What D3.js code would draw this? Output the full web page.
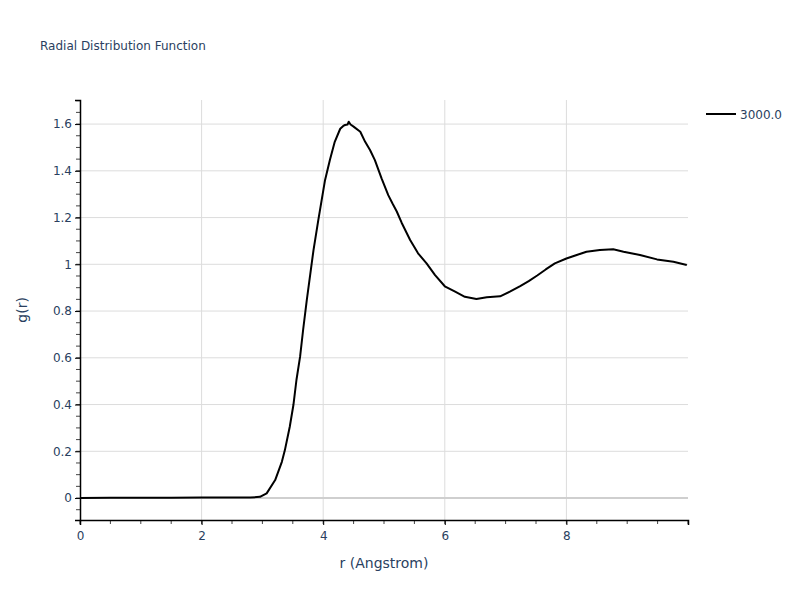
<!DOCTYPE html>
<html>
<head>
<meta charset="utf-8">
<script src="https://cdn.jsdelivr.net/npm/d3@7/dist/d3.min.js"></script>
<style>
  body { margin: 0; background: #fff; }
  text { font-family: "DejaVu Sans", Verdana, sans-serif; fill: #2a3f5f; }
</style>
</head>
<body>
<div id="chart"></div>
<script>
// Values
const seriesName = "3000.0";
const rValues = [0, 0.5, 1.0, 1.5, 2.0, 2.5, 2.8, 2.96, 3.07, 3.21, 3.32, 3.37, 3.45, 3.51, 3.56,
  3.62, 3.67, 3.73, 3.84, 3.92, 4.03, 4.11, 4.19, 4.28, 4.33, 4.36, 4.40, 4.42, 4.45, 4.50, 4.61, 4.69, 4.77,
  4.85, 4.96, 5.07, 5.14, 5.21, 5.29, 5.43, 5.56, 5.70, 5.84, 6.00, 6.17, 6.33, 6.52, 6.69, 6.91,
  7.07, 7.24, 7.38, 7.52, 7.66, 7.81, 8.00, 8.17, 8.33, 8.55, 8.77, 8.94, 9.21, 9.49, 9.76, 9.98];
const gValues = [0, 0.001, 0.001, 0.001, 0.002, 0.002, 0.002, 0.005, 0.02, 0.077, 0.155, 0.205, 0.305, 0.398, 0.505,
  0.605, 0.72, 0.847, 1.06, 1.19, 1.36, 1.446, 1.524, 1.58, 1.592, 1.596, 1.598, 1.61, 1.598, 1.589, 1.567, 1.524, 1.489,
  1.446, 1.368, 1.296, 1.26, 1.226, 1.178, 1.104, 1.047, 1.004, 0.954, 0.906, 0.883, 0.861, 0.852, 0.859, 0.863,
  0.883, 0.907, 0.928, 0.952, 0.978, 1.004, 1.025, 1.04, 1.054, 1.061, 1.064, 1.054, 1.04, 1.021, 1.011, 0.997];
const xTicks = [0, 2, 4, 6, 8];
const yTicks = [0, 0.2, 0.4, 0.6, 0.8, 1, 1.2, 1.4, 1.6];

const width = 800, height = 600;
const margin = { top: 100, right: 112, bottom: 80, left: 80 };

const svg = d3.select("#chart").append("svg")
    .attr("width", width)
    .attr("height", height);

const x = d3.scaleLinear().domain([0, 10]).range([margin.left, width - margin.right]);
const y = d3.scaleLinear().domain([-0.094, 1.703]).range([height - margin.bottom, margin.top]);

// Grid lines
svg.append("g").selectAll("line").data(xTicks.filter(d => d > 0)).join("line")
    .attr("x1", d => x(d)).attr("x2", d => x(d))
    .attr("y1", margin.top).attr("y2", height - margin.bottom)
    .style("stroke", "#dcdcdc").style("stroke-width", 1);
svg.append("g").selectAll("line").data(yTicks.filter(d => d !== 0)).join("line")
    .attr("x1", margin.left).attr("x2", width - margin.right)
    .attr("y1", d => y(d)).attr("y2", d => y(d))
    .style("stroke", "#dcdcdc").style("stroke-width", 1);

// Zero line
svg.append("line")
    .attr("x1", margin.left).attr("x2", width - margin.right)
    .attr("y1", y(0)).attr("y2", y(0))
    .style("stroke", "#cfcfcf").style("stroke-width", 2);

// Minor ticks
const xMinor = d3.range(0, 10.01, 0.5);
const yMinor = d3.range(-0.05, 1.701, 0.05);
svg.append("g").selectAll("line").data(xMinor).join("line")
    .attr("x1", d => x(d)).attr("x2", d => x(d))
    .attr("y1", height - margin.bottom).attr("y2", height - margin.bottom + 4)
    .style("stroke", "#444").style("stroke-width", 1);
svg.append("g").selectAll("line").data(yMinor).join("line")
    .attr("x1", margin.left - 4).attr("x2", margin.left)
    .attr("y1", d => y(d)).attr("y2", d => y(d))
    .style("stroke", "#444").style("stroke-width", 1);

// Axes
const xAxis = d3.axisBottom(x).tickValues(xTicks).tickSize(5).tickPadding(6).tickFormat(d3.format("d"));
const yAxis = d3.axisLeft(y).tickValues(yTicks).tickSize(5).tickPadding(3).tickFormat(d => d3.format("~g")(d));

const gx = svg.append("g")
    .attr("transform", `translate(0,${height - margin.bottom})`)
    .call(xAxis);
const gy = svg.append("g")
    .attr("transform", `translate(${margin.left},0)`)
    .call(yAxis);
[gx, gy].forEach(g => {
    g.select(".domain").style("stroke", "#000").style("stroke-width", 1.5);
    g.selectAll(".tick line").style("stroke", "#000");
    g.selectAll(".tick text").style("font-size", "12px").style("fill", "#2a3f5f")
        .style("font-family", "'DejaVu Sans', sans-serif");
});

// Curve
const line = d3.line()
    .x((d, i) => x(rValues[i]))
    .y(d => y(d));
svg.append("path")
    .datum(gValues)
    .attr("d", line)
    .style("fill", "none")
    .style("stroke", "#000")
    .style("stroke-width", 2)
    .style("stroke-linejoin", "round");

// Title
svg.append("text")
    .attr("x", 40).attr("y", 50)
    .style("font-size", "12px")
    .text("Radial Distribution Function");

// Axis titles
svg.append("text")
    .attr("x", x(5)).attr("y", 568)
    .attr("text-anchor", "middle")
    .style("font-size", "14px")
    .text("r (Angstrom)");
svg.append("text")
    .attr("transform", `translate(27,${y(0.805)}) rotate(-90)`)
    .attr("text-anchor", "middle")
    .style("font-size", "14px")
    .text("g(r)");

// Legend
const legend = svg.append("g").attr("transform", "translate(706,114)");
legend.append("line")
    .attr("x1", 0).attr("x2", 30).attr("y1", 0).attr("y2", 0)
    .style("stroke", "#000").style("stroke-width", 2);
legend.append("text")
    .attr("x", 34).attr("y", 4.5)
    .style("font-size", "12px")
    .text(seriesName);
</script>
</body>
</html>
